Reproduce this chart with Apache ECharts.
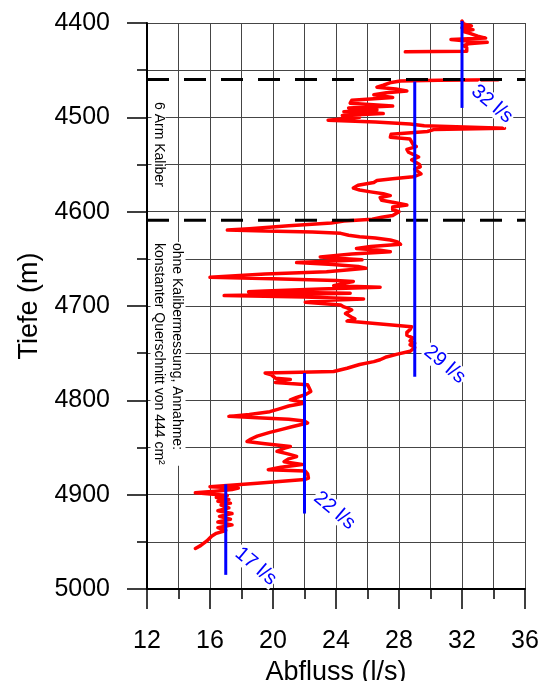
<!DOCTYPE html>
<html>
<head>
<meta charset="utf-8">
<script src="https://cdn.jsdelivr.net/npm/echarts@6/dist/echarts.min.js"></script>
<style>
  html, body { margin: 0; padding: 0; background: #fff; }
  #chart { width: 542px; height: 681px; }
</style>
</head>
<body>
<div id="chart"></div>
<script>
// Flow log: depth (m) and discharge (l/s); null marks a gap in the log
const profileDepth = [
  4398, 4401, 4403, 4405, 4407, 4409, 4411, 4414, 4416, 4417.5, 4419, 4420.5, 4422, 4424, 4426, 4428, 4430, 4430.6,
  null,
  4460.2, 4460.8, 4461.5, 4463, 4466, 4468, 4470, 4472, 4474, 4476, 4479, 4482, 4485, 4488, 4490, 4492, 4494, 4496, 4498,
  4500, 4503, 4505, 4507, 4509, 4511.5, 4513, 4515, 4518, 4521, 4523, 4526, 4529, 4531, 4534, 4537, 4540, 4542, 4545,
  4547, 4550, 4552.5, 4555, 4557, 4560, 4562, 4563, 4565, 4567, 4569, 4572, 4575, 4577, 4579, 4581, 4583, 4585, 4588,
  4590, 4593, 4595, 4598, 4600, 4602, 4604, 4606, 4608, 4610, 4612, 4615, 4618, 4619.5, 4620.5, 4621.5, 4623, 4625,
  4626.6, 4628, 4630, 4632, 4634.6, 4637, 4639, 4641, 4642.5, 4645, 4648, 4650, 4651, 4652.5, 4654, 4656, 4658, 4660,
  4662, 4663.6, 4666, 4669.6, 4671, 4673, 4674, 4676, 4678.5, 4680, 4682, 4684, 4685, 4686.5, 4688, 4689, 4690.5,
  4692.6, 4694, 4696, 4698, 4699, 4701, 4702, 4704, 4706, 4708, 4709.5, 4712, 4713.7, 4716, 4718, 4722, 4725, 4728,
  4731, 4734, 4737, 4739.5, 4741, 4744, 4748, 4751, 4754, 4757, 4759, 4762, 4766, 4769.5, 4770.5, 4771, 4773, 4776.5,
  4778, 4779.5, 4781, 4783.6, 4787, 4790.7, 4794, 4797, 4799.5, 4801, 4803, 4806, 4809, 4812, 4815, 4817, 4818.5, 4820,
  4822, 4824, 4828, 4831, 4834, 4838, 4841, 4843.6, 4846, 4849, 4851, 4854, 4857, 4859.5, 4862, 4865, 4868, 4871,
  4873.6, 4875, 4878, 4882.4, 4884, 4886, 4888, 4890, 4891.5, 4893, 4894.5, 4896, 4898, 4899.5, 4901, 4903, 4905,
  4907, 4909, 4911, 4914, 4917, 4920, 4923, 4926, 4929, 4932, 4935, 4938, 4941, 4944, 4946, 4949, 4951, 4954, 4957
];
const profileFlow = [
  32.0, 32.1, 32.6, 32.0, 32.7, 32.1, 32.5, 33.0, 33.5, 31.3, 32.3, 33.6, 32.4, 32.1, 32.3, 32.2, 32.3, 28.4,
  null,
  34.3, 30.5, 28.1, 27.5, 27.0, 26.6, 27.8, 28.5, 27.2, 26.4, 27.6, 25.0, 24.9, 27.6, 24.8, 26.6, 24.5, 27.0, 24.4,
  25.5, 23.5, 26.5, 28.7, 29.6, 34.7, 30.2, 29.8, 27.5, 27.45, 28.7, 28.8, 28.9, 29.1, 28.5, 28.6, 29.0, 29.25, 28.8,
  28.8, 29.3, 29.35, 29.0, 29.0, 29.4, 29.5, 28.9, 27.6, 26.6, 26.4, 25.4, 25.1, 25.5, 26.2, 27.0, 27.45, 26.8, 26.9,
  27.6, 28.5, 27.6, 27.6, 28.0, 28.1, 27.6, 26.9, 26.3, 24.5, 23.7, 21.0, 18.5, 17.1, 19.5, 22.5, 24.3, 24.8,
  25.5, 26.5, 27.45, 27.9, 28.1, 26.2, 25.3, 26.8, 27.45, 25.0, 23.0, 24.6, 25.65, 23.5, 21.5, 23.8, 25.4, 25.9,
  24.5, 23.4, 19.5, 16.0, 20.0, 24.0, 25.1, 24.5, 23.85, 26.8, 23.0, 19.5, 18.45, 24.9, 20.0, 16.9, 22.0,
  25.75, 23.5, 22.05, 23.5, 24.3, 24.5, 24.7, 25.0, 25.1, 24.6, 24.5, 25.0, 25.2, 24.7, 24.7, 28.8, 28.7, 28.5,
  28.5, 28.9, 28.7, 29.0, 28.7, 29.0, 28.7, 27.9, 27.2, 26.8, 26.4, 25.5, 24.7, 23.85, 21.0, 19.5, 19.9, 20.15,
  21.1, 20.5, 20.15, 22.2, 22.3, 22.4, 22.05, 21.5, 21.1, 21.6, 21.95, 21.0, 20.4, 19.8, 18.5, 17.2, 19.0, 21.0,
  22.0, 22.2, 21.2, 20.5, 19.8, 19.0, 18.6, 18.35, 19.5, 21.1, 20.7, 20.25, 21.0, 21.5, 21.0, 20.7, 21.85, 20.5,
  19.7, 22.05, 22.2, 22.25, 22.0, 21.95, 19.0, 17.3, 16.0, 17.8, 17.4, 16.5, 15.07, 16.2, 17.1, 16.4, 17.2,
  16.5, 17.3, 16.7, 17.2, 16.5, 17.4, 16.6, 17.3, 16.5, 17.4, 16.5, 17.0, 16.4, 16.1, 16.0, 15.8, 15.7, 15.4, 15.07
];

// Mean discharge per interval (vertical blue markers)
const rateFlow = [32, 29, 22, 17];
const rateTop = [4398, 4462, 4771, 4889];
const rateBottom = [4490, 4775, 4920, 4985];
const rateLabelDepth = [4486, 4762, 4917, 4976];

// Depths separating the caliper zones
const zoneDepth = [4460, 4609];

const xTicks = { min: 12, max: 36, step: 4 };
const yTicks = { min: 4400, max: 5000, step: 100 };

const FONT = '"Liberation Sans", Arial, Helvetica, sans-serif';
const GRID = '#454545';

const chart = echarts.init(document.getElementById('chart'), null, { renderer: 'canvas' });

// split the log into continuous pieces at the null markers
const pieces = [];
let run = [];
profileDepth.forEach((d, i) => {
  if (d === null || profileFlow[i] === null) {
    if (run.length) pieces.push(run);
    run = [];
  } else {
    run.push([profileFlow[i], d]);
  }
});
if (run.length) pieces.push(run);

const series = [];
pieces.forEach(p => series.push({
  type: 'line', data: p, symbol: 'none', showSymbol: false, clip: false, z: 2,
  lineStyle: { color: '#ff0000', width: 3.5, join: 'round', cap: 'round' }, silent: true
}));
zoneDepth.forEach(d => series.push({
  type: 'line', data: [[xTicks.min, d], [xTicks.max, d]], symbol: 'none', z: 3, silent: true,
  lineStyle: { color: '#000', width: 3, type: [22, 15] }
}));
rateFlow.forEach((f, i) => series.push({
  type: 'line', data: [[f, rateTop[i]], [f, rateBottom[i]]], symbol: 'none', clip: false, z: 4, silent: true,
  lineStyle: { color: '#0000ff', width: 3 }
}));

const axisCommon = {
  type: 'value',
  axisLine: { show: true, onZero: false, lineStyle: { color: '#000', width: 2 } },
  axisTick: { show: true, inside: false, length: 20, lineStyle: { color: '#000', width: 1.5 } },
  minorTick: { show: true, splitNumber: 2, length: 10, lineStyle: { color: '#000', width: 1.5 } },
  splitLine: { show: true, lineStyle: { color: GRID, width: 1 } },
  minorSplitLine: { show: true, lineStyle: { color: GRID, width: 1 } },
  nameLocation: 'middle',
  nameTextStyle: { fontSize: 27, color: '#000', fontFamily: FONT }
};

chart.setOption({
  animation: false,
  backgroundColor: '#fff',
  grid: { left: 147, right: 17, top: 23, bottom: 92, containLabel: false, outerBoundsMode: 'none' },
  xAxis: Object.assign({}, axisCommon, {
    min: xTicks.min, max: xTicks.max, interval: xTicks.step, position: 'bottom',
    name: 'Abfluss (l/s)', nameGap: 69,
    axisLabel: { fontSize: 25, color: '#000', margin: 40, fontFamily: FONT, hideOverlap: false,
      formatter: v => String(v) }
  }),
  yAxis: Object.assign({}, axisCommon, {
    min: yTicks.min, max: yTicks.max, interval: yTicks.step, inverse: true, position: 'left',
    name: 'Tiefe (m)', nameGap: 99,
    axisLabel: { fontSize: 25, color: '#000', margin: 37, fontFamily: FONT, hideOverlap: false,
      formatter: v => String(v) }
  }),
  series: series
});

// zone notes and interval labels
const graphics = [
  {
    type: 'text', x: 158.5, y: 101, rotation: -Math.PI / 2, z: 10,
    style: { text: '6 Arm Kaliber', font: '14px ' + FONT, fill: '#000', align: 'left', verticalAlign: 'middle',
      backgroundColor: '#fff', padding: [0, 1] }
  },
  {
    type: 'text', x: 168, y: 242, rotation: -Math.PI / 2, z: 10,
    style: { text: 'ohne Kalibermessung, Annahme:\nkonstanter Querschnitt von 444 cm²', font: '14px ' + FONT,
      fill: '#000', align: 'left', verticalAlign: 'middle', lineHeight: 17.5, backgroundColor: '#fff', padding: [0, 1] }
  }
];
rateFlow.forEach((f, i) => {
  const pt = chart.convertToPixel({ gridIndex: 0 }, [f, rateLabelDepth[i]]);
  graphics.push({
    type: 'text', x: pt[0] + 30, y: pt[1], rotation: -40 * Math.PI / 180, z: 10,
    style: { text: f + ' l/s', font: '20px ' + FONT, fill: '#0000ff', align: 'center', verticalAlign: 'middle',
      backgroundColor: '#fff', padding: [0, 1] }
  });
});
chart.setOption({ graphic: graphics });
</script>
</body>
</html>
